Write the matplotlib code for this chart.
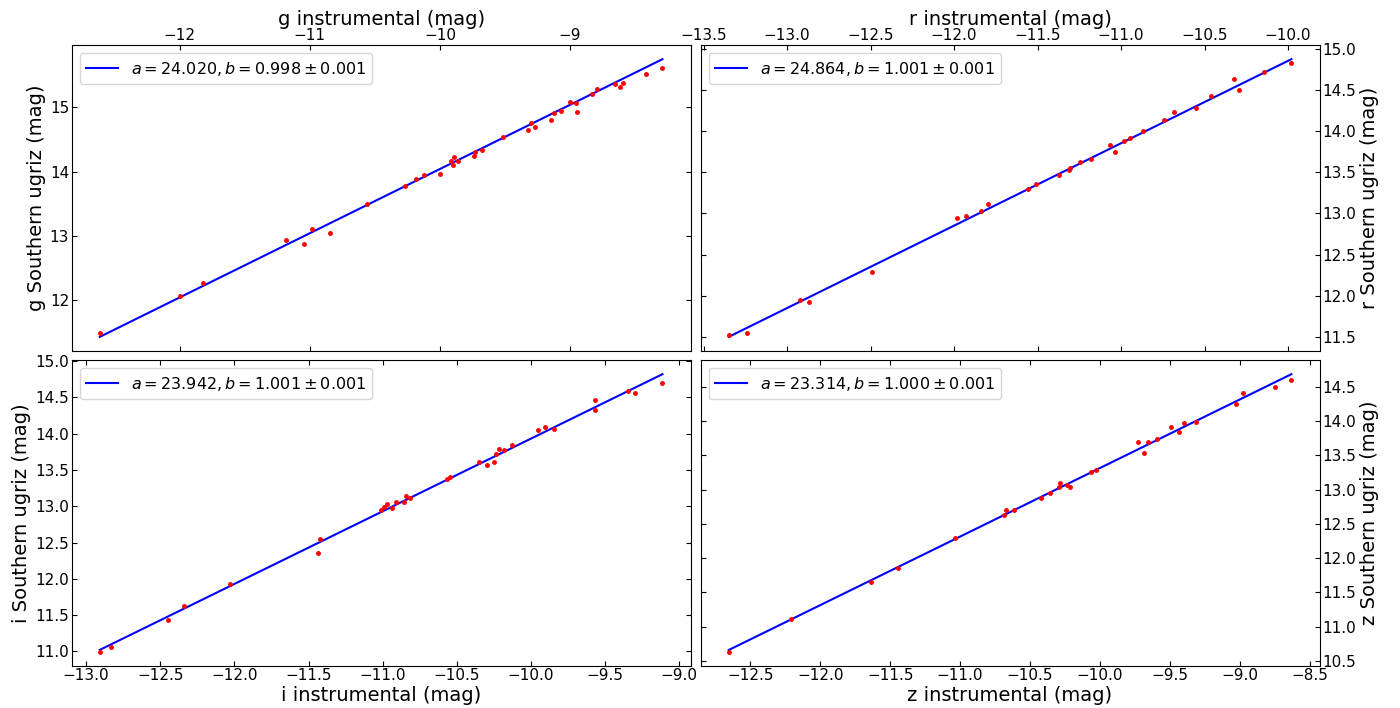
"""
Photometric calibration: Southern ugriz vs instrumental magnitudes (g, r, i, z)
Linear fit  m_std = a + b * m_inst  shown for each band.
"""

import numpy as np
import matplotlib
matplotlib.use("Agg")
import matplotlib.pyplot as plt
from matplotlib.ticker import MultipleLocator

# ═══════════════════════════════════════════════
# DATA
# ═══════════════════════════════════════════════
g_inst = [-12.614, -12.000, -11.820, -11.183, -11.043, -10.982, -10.846, -10.560,
          -10.266, -10.186, -10.124, -9.999, -9.917, -9.892, -9.900, -9.859,
          -9.738, -9.733, -9.677, -9.513, -9.321, -9.303, -9.272, -9.147,
          -9.124, -9.071, -8.999, -8.958, -8.950, -8.830, -8.792, -8.654,
          -8.616, -8.592, -8.418, -8.290]
g_std = [11.498, 12.073, 12.270, 12.933, 12.877, 13.104, 13.042, 13.499,
         13.768, 13.877, 13.944, 13.966, 14.168, 14.219, 14.105, 14.168,
         14.240, 14.308, 14.328, 14.530, 14.650, 14.753, 14.697, 14.800,
         14.908, 14.945, 15.075, 15.059, 14.930, 15.199, 15.282, 15.365,
         15.313, 15.370, 15.510, 15.608]

r_inst = [-13.349, -13.237, -12.922, -12.868, -12.494, -11.980, -11.926, -11.837,
          -11.795, -11.556, -11.508, -11.372, -11.314, -11.307, -11.247, -11.177,
          -11.068, -11.034, -10.984, -10.944, -10.870, -10.745, -10.681, -10.549,
          -10.460, -10.326, -10.295, -10.145, -9.980]
r_std = [11.528, 11.549, 11.944, 11.928, 12.295, 12.950, 12.967, 13.032,
         13.114, 13.292, 13.353, 13.468, 13.533, 13.549, 13.622, 13.667,
         13.835, 13.749, 13.884, 13.916, 13.998, 14.140, 14.238, 14.287,
         14.425, 14.629, 14.502, 14.715, 14.825]

i_inst = [-12.908, -12.830, -12.448, -12.343, -12.030, -11.438, -11.422, -11.013,
          -10.989, -10.969, -10.937, -10.912, -10.857, -10.843, -10.814, -10.569,
          -10.545, -10.349, -10.298, -10.249, -10.235, -10.217, -10.183, -10.129,
          -9.952, -9.905, -9.842, -9.566, -9.566, -9.346, -9.296, -9.114]
i_std = [10.994, 11.055, 11.434, 11.627, 11.932, 12.352, 12.551, 12.953,
         12.990, 13.031, 12.980, 13.058, 13.058, 13.141, 13.109, 13.377,
         13.400, 13.612, 13.571, 13.608, 13.719, 13.784, 13.774, 13.839,
         14.047, 14.089, 14.061, 14.467, 14.319, 14.587, 14.560, 14.702]

z_inst = [-12.655, -12.207, -11.641, -11.441, -11.038, -10.684, -10.669, -10.612,
          -10.424, -10.357, -10.295, -10.288, -10.236, -10.217, -10.067, -10.026,
          -9.726, -9.684, -9.657, -9.590, -9.490, -9.436, -9.402, -9.312,
          -9.026, -8.976, -8.745, -8.631]
z_std = [10.632, 11.114, 11.651, 11.855, 12.289, 12.626, 12.703, 12.703,
         12.879, 12.952, 13.039, 13.093, 13.073, 13.039, 13.263, 13.292,
         13.687, 13.526, 13.687, 13.736, 13.906, 13.844, 13.971, 13.980,
         14.253, 14.409, 14.501, 14.604]

# fit parameters from the legends: zero point a, slope b, error on b
bands   = ["g", "r", "i", "z"]
fit_a   = [24.020, 24.864, 23.942, 23.314]
fit_b   = [0.998, 1.001, 1.001, 1.000]
fit_err = [0.001, 0.001, 0.001, 0.001]
tick_steps = [1.0, 0.5, 0.5, 0.5]

inst = [g_inst, r_inst, i_inst, z_inst]
std  = [g_std, r_std, i_std, z_std]

# ═══════════════════════════════════════════════
# FIGURE
# ═══════════════════════════════════════════════
fig, axes = plt.subplots(2, 2, figsize=(14, 7.08), dpi=100)
fig.subplots_adjust(left=0.0512, right=0.9425, top=0.936, bottom=0.0597,
                    wspace=0.0162, hspace=0.0314)

for k, ax in enumerate(axes.flat):
    x = np.array(inst[k])
    y = np.array(std[k])
    a, b, e = fit_a[k], fit_b[k], fit_err[k]

    xx = np.array([x.min(), x.max()])
    ax.plot(xx, a + b * xx, "b-",
            label=rf"$a={a:.3f}, b={b:.3f}\pm{e:.3f}$")
    ax.plot(x, y, "r.", markersize=5)

    ax.xaxis.set_major_locator(MultipleLocator(tick_steps[k]))
    ax.yaxis.set_major_locator(MultipleLocator(tick_steps[k]))
    ax.tick_params(direction="in", top=True, bottom=True, left=True,
                   right=True, labelsize=11, pad=1.8)

    row, col = divmod(k, 2)
    if row == 0:
        ax.tick_params(labeltop=True, labelbottom=False)
        ax.xaxis.set_label_position("top")
    if col == 1:
        ax.tick_params(labelright=True, labelleft=False)
        ax.yaxis.set_label_position("right")

    ax.set_xlabel(f"{bands[k]} instrumental (mag)", fontsize=14, labelpad=2)
    ax.set_ylabel(f"{bands[k]} Southern ugriz (mag)", fontsize=14, labelpad=3)
    ax.legend(loc="upper left", fontsize=11.5)

fig.savefig("out.png", dpi=100)
